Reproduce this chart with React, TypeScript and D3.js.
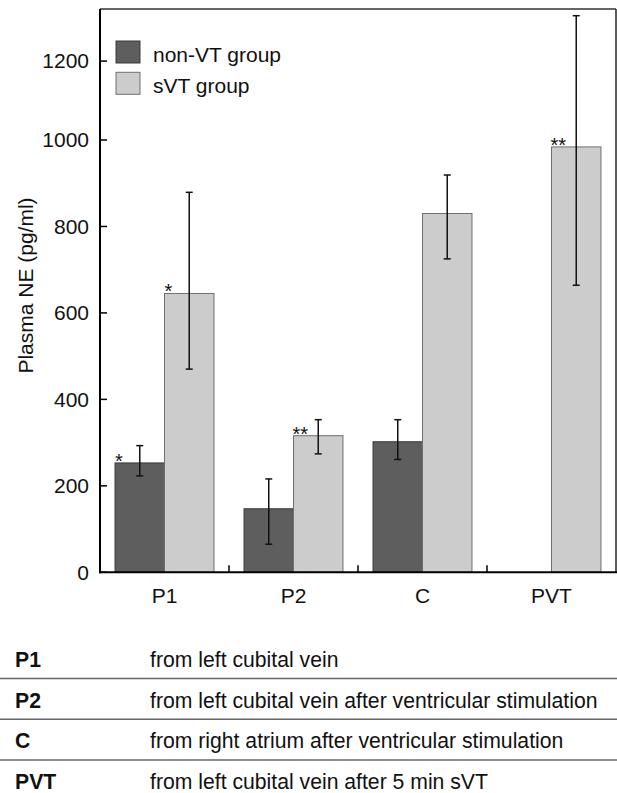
import * as d3 from 'd3'

const W = 617, H = 793
const FONT = 'Liberation Sans, Arial, sans-serif'

// data
const categories = ['P1', 'P2', 'C', 'PVT']
const groups = ['non-VT group', 'sVT group']
const nonVT = [253, 147, 302, null]
const nonVTLo = [223, 65, 261, null]
const nonVTHi = [293, 216, 353, null]
const sVT = [645, 316, 830, 984]
const sVTLo = [470, 274, 725, 664]
const sVTHi = [879, 353, 919, 1315]
const nonVTSig = ['*', '', '', '']
const sVTSig = ['*', '**', '', '**']
const yTicks = [0, 200, 400, 600, 800, 1000, 1200]

const tableCodes = ['P1', 'P2', 'C', 'PVT']
const tableText = [
  'from left cubital vein',
  'from left cubital vein after ventricular stimulation',
  'from right atrium after ventricular stimulation',
  'from left cubital vein after 5 min sVT',
]

const COLORS = ['#5e5e5e', '#cccccc']
const STROKES = ['#3a3a3a', '#707070']

const L = 100, R = 616, T = 9, B = 572.3

export default function App() {
  // the source figure's axis is slightly compressed above 1000
  const y = d3.scaleLinear().domain([0, 1000, 1332]).range([B, 140, T])
  const x0 = d3.scaleBand().domain(categories).range([L, R]).paddingInner(0.233).paddingOuter(0.1165)
  const x1 = d3.scaleBand().domain(groups).range([0, x0.bandwidth()])
  const step = x0.step()

  const series = [
    { key: groups[0], vals: nonVT, lo: nonVTLo, hi: nonVTHi, sig: nonVTSig },
    { key: groups[1], vals: sVT, lo: sVTLo, hi: sVTHi, sig: sVTSig },
  ]

  const rowH = 40.7
  const row0 = 667

  return (
    <svg width={W} height={H} style={{ position: 'absolute', left: 0, top: 0, background: '#fff' }}
      fontFamily={FONT}>
      {/* frame */}
      <line x1={L} x2={R} y1={T} y2={T} stroke="#333" strokeWidth={1.6} />
      <line x1={R} x2={R} y1={T} y2={B} stroke="#333" strokeWidth={1.6} />

      {/* bars */}
      {series.map((s, si) => (
        <g key={s.key}>
          {categories.map((c, i) => {
            const v = s.vals[i]
            if (v == null) return null
            const bx = x0(c)! + x1(s.key)!
            const bw = x1.bandwidth()
            return (
              <rect key={c} x={bx} y={y(v)} width={bw} height={y(0) - y(v)}
                fill={COLORS[si]} stroke={STROKES[si]} strokeWidth={1} />
            )
          })}
        </g>
      ))}

      {/* error bars */}
      {series.map((s) => (
        <g key={s.key + '-err'} stroke="#111" strokeWidth={1.5}>
          {categories.map((c, i) => {
            if (s.lo[i] == null) return null
            const cx = x0(c)! + x1(s.key)! + x1.bandwidth() / 2
            const ylo = y(s.lo[i] as number), yhi = y(s.hi[i] as number)
            return (
              <g key={c}>
                <line x1={cx} x2={cx} y1={ylo} y2={yhi} />
                <line x1={cx - 3.5} x2={cx + 3.5} y1={ylo} y2={ylo} />
                <line x1={cx - 3.5} x2={cx + 3.5} y1={yhi} y2={yhi} />
              </g>
            )
          })}
        </g>
      ))}

      {/* significance marks */}
      {series.map((s) => (
        <g key={s.key + '-sig'} fontSize={20} fill="#111">
          {categories.map((c, i) => s.sig[i] && s.vals[i] != null ? (
            <text key={c} x={x0(c)! + x1(s.key)! - (s.sig[i].length > 1 ? 1 : 0)} y={y(s.vals[i] as number) + 5}>
              {s.sig[i]}
            </text>
          ) : null)}
        </g>
      ))}

      {/* y axis */}
      <line x1={L} x2={L} y1={T} y2={B + 1} stroke="#000" strokeWidth={2} />
      {yTicks.map(t => (
        <g key={t} transform={`translate(0,${y(t)})`}>
          <line x1={L} x2={L + 7} stroke="#000" strokeWidth={1.5} />
          <text x={L - 11} dy="0.35em" textAnchor="end" fontSize={21} fill="#111">{t}</text>
        </g>
      ))}
      <text transform={`translate(33,285.5) rotate(-90)`} textAnchor="middle" fontSize={21} fill="#111">
        Plasma NE (pg/ml)
      </text>

      {/* x axis */}
      <line x1={L - 1} x2={R + 1} y1={B} y2={B} stroke="#000" strokeWidth={2} />
      {categories.slice(1).map(c => (
        <line key={c} x1={x0(c)! - step * 0.1165} x2={x0(c)! - step * 0.1165} y1={B} y2={B - 7}
          stroke="#000" strokeWidth={1.5} />
      ))}
      {categories.map(c => (
        <text key={c} x={x0(c)! + x0.bandwidth() / 2} y={603} textAnchor="middle" fontSize={21} fill="#111">{c}</text>
      ))}

      {/* legend */}
      {groups.map((g, i) => (
        <g key={g} transform={`translate(116,${41 + i * 31.3})`}>
          <rect width={24} height={22} fill={COLORS[i]} stroke={STROKES[i]} strokeWidth={1} />
          <text x={37} y={20.5} fontSize={21} fill="#111">{g}</text>
        </g>
      ))}

      {/* table */}
      {tableCodes.map((code, i) => (
        <g key={code}>
          <text x={15} y={row0 + i * rowH} fontSize={21.2} fontWeight="bold" fill="#111">{code}</text>
          <text x={150} y={row0 + i * rowH} fontSize={21.2} fill="#111">{tableText[i]}</text>
          {i < tableCodes.length - 1 && (
            <line x1={0} x2={W} y1={row0 + i * rowH + 11.5} y2={row0 + i * rowH + 11.5} stroke="#666" strokeWidth={1.5} />
          )}
        </g>
      ))}
    </svg>
  )
}
